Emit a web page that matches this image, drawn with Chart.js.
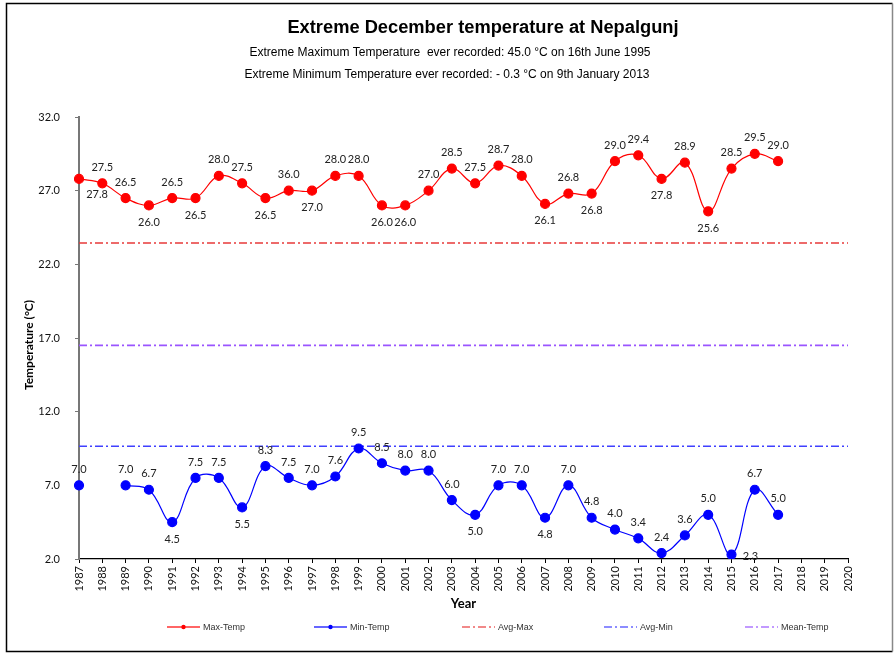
<!DOCTYPE html>
<html>
<head>
<meta charset="utf-8">
<script src="https://cdn.jsdelivr.net/npm/chart.js@4/dist/chart.umd.min.js"></script>
<style>
html,body{margin:0;padding:0;background:#fff;}
canvas{display:block;}
</style>
</head>
<body>
<canvas id="c" width="894" height="656"></canvas>
<script>
// ---- data ----
const years = ['1987','1988','1989','1990','1991','1992','1993','1994','1995','1996','1997','1998','1999','2000','2001','2002','2003','2004','2005','2006','2007','2008','2009','2010','2011','2012','2013','2014','2015','2016','2017','2018','2019','2020'];
const maxTemp = [27.8,27.5,26.5,26.0,26.5,26.5,28.0,27.5,26.5,27.0,27.0,28.0,28.0,26.0,26.0,27.0,28.5,27.5,28.7,28.0,26.1,26.8,26.8,29.0,29.4,27.8,28.9,25.6,28.5,29.5,29.0];
const maxLabels = ['27.8','27.5','26.5','26.0','26.5','26.5','28.0','27.5','26.5','36.0','27.0','28.0','28.0','26.0','26.0','27.0','28.5','27.5','28.7','28.0','26.1','26.8','26.8','29.0','29.4','27.8','28.9','25.6','28.5','29.5','29.0'];
const minTemp = [7.0,null,7.0,6.7,4.5,7.5,7.5,5.5,8.3,7.5,7.0,7.6,9.5,8.5,8.0,8.0,6.0,5.0,7.0,7.0,4.8,7.0,4.8,4.0,3.4,2.4,3.6,5.0,2.3,6.7,5.0];
const minLabels = ['7.0','','7.0','6.7','4.5','7.5','7.5','5.5','8.3','7.5','7.0','7.6','9.5','8.5','8.0','8.0','6.0','5.0','7.0','7.0','4.8','7.0','4.8','4.0','3.4','2.4','3.6','5.0','2.3','6.7','5.0'];
const avgMax = 23.45;
const avgMin = 9.65;
const meanTemp = 16.5;
const yTicks = [2,7,12,17,22,27,32];

// label placement (style): a = above, b = below, br = below-right, r = right
const maxPos = ['br','a','a','b','a','b','a','a','b','a','b','a','a','b','b','a','a','a','a','a','b','a','b','a','a','b','a','b','a','a','a'];
const minPos = ['a','a','a','a','b','a','a','b','a','a','a','a','a','a','a','a','a','b','a','a','b','a','a','a','a','a','a','a','r','a','a'];

const LBL_FONT = '11px Lato, "Open Sans", sans-serif';

const framePlugin = {
  id: 'frame',
  beforeDraw(chart) {
    const ctx = chart.ctx;
    ctx.save();
    ctx.fillStyle = '#fff';
    ctx.fillRect(0, 0, chart.width, chart.height);
    ctx.restore();
  },
  afterDraw(chart) {
    const ctx = chart.ctx;
    ctx.save();
    // frame
    ctx.strokeStyle = '#000';
    ctx.lineWidth = 1.5;
    ctx.beginPath();
    ctx.moveTo(892.5, 3.5); ctx.lineTo(6.5, 3.5); ctx.lineTo(6.5, 651.5); ctx.lineTo(892.5, 651.5);
    ctx.stroke();
    ctx.strokeStyle = '#888';
    ctx.beginPath(); ctx.moveTo(892.5, 3.5); ctx.lineTo(892.5, 651.5); ctx.stroke();

    // titles
    ctx.fillStyle = '#000';
    ctx.textAlign = 'center';
    ctx.textBaseline = 'middle';
    ctx.font = 'bold 18.3px "Liberation Sans", Arial, sans-serif';
    ctx.fillText('Extreme December temperature at Nepalgunj', 483, 28);
    ctx.font = '12px "Liberation Sans", Arial, sans-serif';
    ctx.fillText('Extreme Maximum Temperature  ever recorded: 45.0 °C on 16th June 1995', 450, 53);
    ctx.fillText('Extreme Minimum Temperature ever recorded: - 0.3 °C on 9th January 2013', 447, 75);

    // axis titles
    const ca = chart.chartArea;
    ctx.font = 'bold 13px Lato, "Open Sans", sans-serif';
    ctx.fillText('Year', (ca.left + ca.right) / 2, 604);
    ctx.save();
    ctx.translate(29, 345);
    ctx.rotate(-Math.PI / 2);
    ctx.font = 'bold 12px Lato, "Open Sans", sans-serif';
    ctx.fillText('Temperature (°C)', 0, 0);
    ctx.restore();

    // data labels
    ctx.font = LBL_FONT;
    ctx.fillStyle = '#222';
    const drawLabels = (dsIndex, labels, pos) => {
      const meta = chart.getDatasetMeta(dsIndex);
      meta.data.forEach((pt, i) => {
        if (!labels[i] || pt.skip) return;
        let x = pt.x, y = pt.y;
        const p = pos[i];
        if (p === 'a') y -= 16;
        else if (p === 'b') y += 17;
        else if (p === 'br') { x += 18; y += 16; }
        else if (p === 'r') { x += 19; y += 2; }
        ctx.fillText(labels[i], x, y);
      });
    };
    drawLabels(0, maxLabels, maxPos);
    drawLabels(1, minLabels, minPos);

    // legend
    const items = [
      {ds: 0, x: 167, text: 'Max-Temp'},
      {ds: 1, x: 314, text: 'Min-Temp'},
      {ds: 2, x: 462, text: 'Avg-Max'},
      {ds: 3, x: 604, text: 'Avg-Min'},
      {ds: 4, x: 745, text: 'Mean-Temp'}
    ];
    const ly = 627;
    ctx.font = '9px "Liberation Sans Narrow", "Liberation Sans", Arial, sans-serif';
    ctx.textAlign = 'left';
    items.forEach(it => {
      const ds = chart.data.datasets[it.ds];
      ctx.save();
      ctx.strokeStyle = ds.borderColor;
      ctx.globalAlpha = 0.6;
      ctx.lineWidth = 2;
      ctx.setLineDash(ds.borderDash || []);
      ctx.beginPath(); ctx.moveTo(it.x, ly); ctx.lineTo(it.x + 33, ly); ctx.stroke();
      ctx.restore();
      if (it.ds < 2) {
        ctx.beginPath();
        ctx.fillStyle = ds.pointBackgroundColor;
        ctx.arc(it.x + 16.5, ly, 2.2, 0, Math.PI * 2);
        ctx.fill();
      }
      ctx.fillStyle = '#333';
      ctx.fillText(it.text, it.x + 36, ly + 0.5);
    });
    ctx.restore();
  }
};

const flat = (v) => [{x: years[0], y: v}, {x: years[years.length - 1], y: v}];

new Chart(document.getElementById('c'), {
  type: 'line',
  data: {
    labels: years,
    datasets: [
      {label: 'Max-Temp', data: maxTemp, borderColor: '#ff0000', backgroundColor: '#ff0000', pointBackgroundColor: '#ff0000', pointBorderColor: '#ff0000', pointRadius: 4.5, borderWidth: 1.2, tension: 0.4, spanGaps: false, order: 1},
      {label: 'Min-Temp', data: minTemp, borderColor: '#0000ff', backgroundColor: '#0000ff', pointBackgroundColor: '#0000ff', pointBorderColor: '#0000ff', pointRadius: 4.5, borderWidth: 1.2, tension: 0.4, spanGaps: false, order: 2},
      {label: 'Avg-Max', data: flat(avgMax), borderColor: '#e83a3a', borderWidth: 1.4, borderDash: [8, 3, 2, 3], pointRadius: 0, order: 3},
      {label: 'Avg-Min', data: flat(avgMin), borderColor: '#4040ff', borderWidth: 1.4, borderDash: [8, 3, 2, 3], pointRadius: 0, order: 4},
      {label: 'Mean-Temp', data: flat(meanTemp), borderColor: '#9a55ff', borderWidth: 1.6, borderDash: [8, 3, 2, 3], pointRadius: 0, order: 5}
    ]
  },
  options: {
    responsive: false,
    animation: false,
    layout: {padding: {left: 6, right: 46, top: 117, bottom: 0}},
    plugins: {legend: {display: false}, title: {display: false}, tooltip: {enabled: false}},
    scales: {
      x: {
        type: 'category',
        offset: false,
        grid: {drawOnChartArea: false, drawTicks: true, tickLength: 4, color: '#000'},
        border: {color: '#000', width: 1.2},
        ticks: {minRotation: 90, maxRotation: 90, autoSkip: false, padding: 3, color: '#111', font: {family: 'Lato, "Open Sans", sans-serif', size: 11}},
        afterFit(s) { s.height = 97; }
      },
      y: {
        min: 2, max: 32,
        afterBuildTicks(s) { s.ticks = yTicks.map(v => ({value: v})); },
        grid: {drawOnChartArea: false, drawTicks: true, tickLength: 4, color: '#777'},
        border: {color: '#777', width: 2},
        ticks: {padding: 15, color: '#111', font: {family: 'Lato, "Open Sans", sans-serif', size: 11}, callback: v => Number(v).toFixed(1)},
        afterFit(s) { s.width = 73; }
      }
    }
  },
  plugins: [framePlugin]
});
</script>
</body>
</html>
